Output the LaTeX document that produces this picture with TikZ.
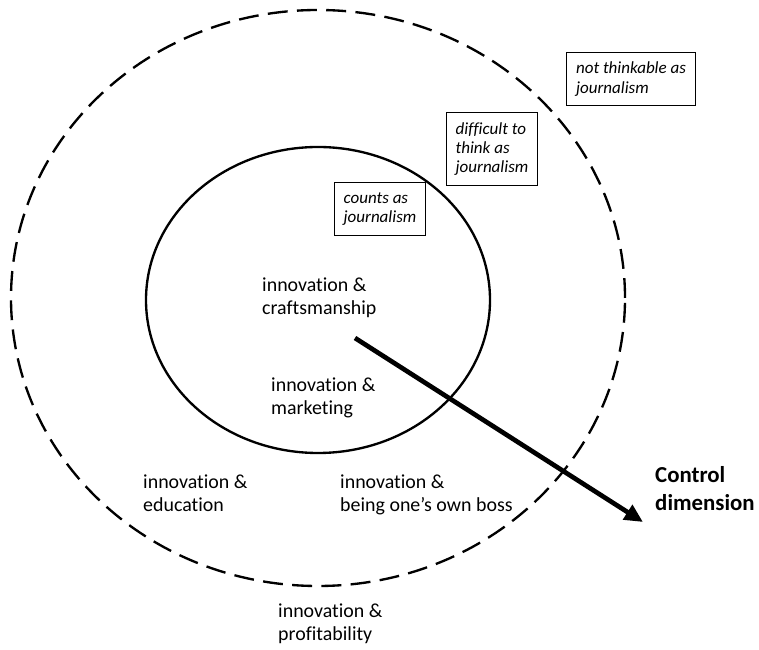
\documentclass[tikz,border=0pt]{standalone}
\usepackage{fontspec}
\setmainfont{Carlito}[Ligatures={NoCommon}]
\usetikzlibrary{arrows.meta, positioning}

\begin{document}
\begin{tikzpicture}[x=0.03cm, y=0.03cm,
  region/.style={align=left, anchor=base west, inner sep=0pt, font=\fontsize{17}{19.8}\selectfont},
  tag/.style={rectangle, draw, line width=0.8pt, align=left, font=\fontsize{14.5}{16.5}\selectfont\itshape, inner xsep=8pt, inner ysep=8.5pt},
  arr/.style={-{Triangle[length=5.5mm, width=5mm]}, line width=4pt}]
\useasboundingbox (0,0) rectangle (759,650);
% zones
\draw[line width=2pt, dash pattern=on 17pt off 8pt] (318,352) ellipse [x radius=307, y radius=288];
\draw[line width=2pt] (318,350) ellipse [x radius=172, y radius=153];

\node[tag] (t1) at (380,441) {counts as\\journalism};
\node[tag] (t2) at (492,501) {difficult to\\think as\\journalism};
\node[tag] (t3) at (631,571) {not thinkable as\\journalism};

\node[region] (r1) at (262,335) {innovation \&\\craftsmanship};
\node[region] (r2) at (271,235) {innovation \&\\marketing};
\node[region] (r3) at (143,138) {innovation \&\\education};
\node[region] (r4) at (340,138) {innovation \&\\being one’s own boss};
\node[region] (r5) at (278,9) {innovation \&\\profitability};

\node[region, font=\fontsize{19.5}{24}\selectfont\bfseries] (ctl) at (655,139) {Control\\dimension};

\coordinate (c0) at (355,312);
\coordinate (c1) at (643,128);
\draw[arr] (c0) -- (c1);
\end{tikzpicture}
\end{document}
